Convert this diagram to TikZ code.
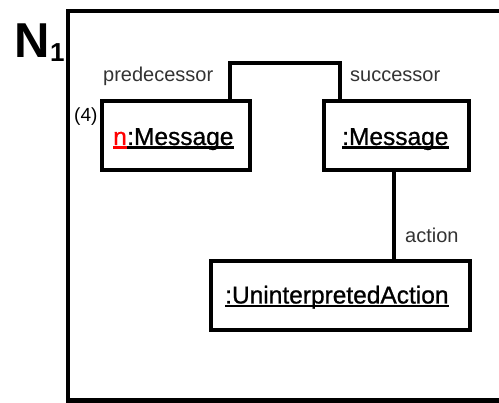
\documentclass[tikz,border=0pt]{standalone}
\usepackage{fontspec}
\setmainfont{Liberation Sans}
\newfontfamily\objfont{Liberation Sans}[FakeBold=0.9]
\begin{document}
\begin{tikzpicture}[x=1pt,y=-1pt,
  heavy/.style={line width=4.5pt,line join=miter},
  objbox/.style={draw,heavy,rectangle,inner sep=0pt,fill=white},
  objtext/.style={inner sep=0pt,anchor=base west,font=\objfont\fontsize{24.5}{28}\selectfont},
  rolelabel/.style={inner sep=0pt,anchor=base west,text=black!80,font=\fontsize{20}{24}\selectfont},
  uline/.style={line width=2.3pt}]
\useasboundingbox (0,0) rectangle (499,403);
% diagram frame, running off the right and bottom edges
\begin{scope}
  \clip (0,0) rectangle (499,403);
  \draw[heavy] (520,11) -- (68,11) -- (68,400.5) -- (520,400.5);
\end{scope}
\node[inner sep=0pt,anchor=base west,font=\fontsize{49}{52}\selectfont\bfseries] (nname) at (14,57.5) {N};
\node[inner sep=0pt,anchor=base west,font=\fontsize{26}{28}\selectfont\bfseries] (nsub) at (50,62) {1};

% object boxes
\node[objbox,minimum width=148pt,minimum height=69pt] (m1) at (176,135.5) {};
\node[objbox,minimum width=145pt,minimum height=69pt] (m2) at (396.5,135.5) {};
\node[objbox,minimum width=259pt,minimum height=69pt] (ua) at (340.5,295.5) {};

% object names
\node[objtext,text=red] (tn) at (113,145) {n};
\node[objtext] (tm1) at (tn.base east) {:Message};
\draw[uline,red] ([yshift=-2.6pt]tn.base west) -- ([yshift=-2.6pt]tn.base east);
\draw[uline] ([yshift=-2.6pt]tm1.base west) -- ([yshift=-2.6pt]tm1.base east);
\node[objtext] (tm2) at (342,145) {:Message};
\draw[uline] ([yshift=-2.6pt]tm2.base west) -- ([yshift=-2.6pt]tm2.base east);
\node[objtext] (tua) at (225,303.5) {:UninterpretedAction};
\draw[uline] ([yshift=-2.6pt]tua.base west) -- ([yshift=-2.6pt]tua.base east);

\node[inner sep=0pt,anchor=base west,font=\fontsize{19}{22}\selectfont] (mult) at (74,121.5) {(4)};

% links
\coordinate (pj) at (230,63);
\coordinate (sj) at (340,63);
\coordinate (aj) at (394,200);
\draw[heavy] (m1.north -| pj) -- (pj) -- (sj) -- (m2.north -| sj);
\draw[heavy] (m2.south -| aj) -- (ua.north -| aj);

% role names
\node[rolelabel] (lpred) at (103,81.5) {predecessor};
\node[rolelabel] (lsucc) at (350,81.5) {successor};
\node[rolelabel] (lact) at (405,243) {action};
\end{tikzpicture}
\end{document}
